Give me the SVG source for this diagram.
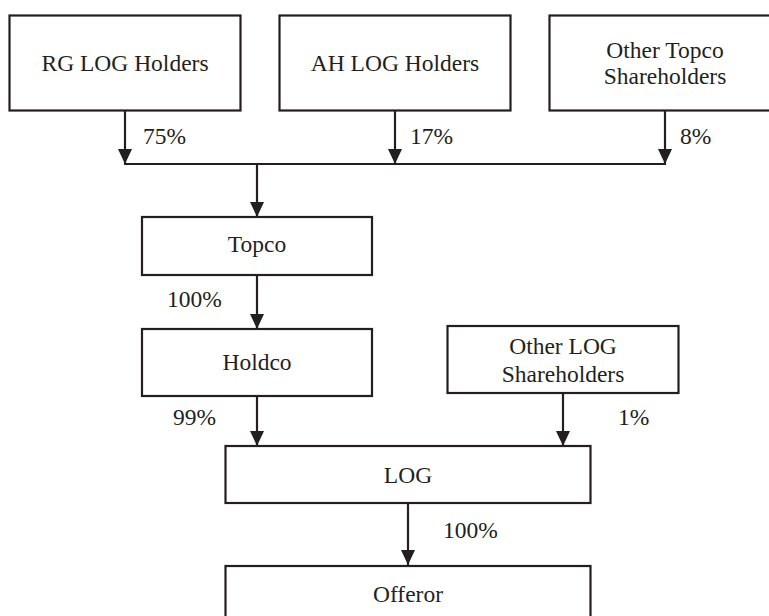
<svg xmlns="http://www.w3.org/2000/svg" width="769" height="616" viewBox="0 0 769 616">
<style>
.box{fill:#fff;stroke:#231f20;stroke-width:2.2}
.t{font-family:"Liberation Serif","Times New Roman",serif;font-size:23.5px;fill:#231f20;text-anchor:middle}
.p{font-family:"Liberation Serif","Times New Roman",serif;font-size:23.5px;fill:#231f20}
.c{fill:none;stroke:#231f20;stroke-width:2.2}
</style>
<defs>
<marker id="ah" viewBox="0 0 15 14" refX="15" refY="7" markerWidth="15" markerHeight="14" markerUnits="userSpaceOnUse" orient="auto">
<path d="M0,0 L15,7 L0,14 Z" fill="#231f20"/>
</marker>
</defs>
<rect width="769" height="616" fill="#fff"/>
<g id="connectors">
<line class="c" x1="125" y1="111" x2="125" y2="164" marker-end="url(#ah)"/>
<line class="c" x1="395" y1="111" x2="395" y2="164" marker-end="url(#ah)"/>
<line class="c" x1="665" y1="111" x2="665" y2="164" marker-end="url(#ah)"/>
<line class="c" x1="124" y1="164" x2="666" y2="164"/>
<line class="c" x1="257" y1="164" x2="257" y2="217" marker-end="url(#ah)"/>
<line class="c" x1="257" y1="275" x2="257" y2="329" marker-end="url(#ah)"/>
<line class="c" x1="257" y1="396" x2="257" y2="446" marker-end="url(#ah)"/>
<line class="c" x1="563" y1="393" x2="563" y2="446" marker-end="url(#ah)"/>
<line class="c" x1="408" y1="503" x2="408" y2="565" marker-end="url(#ah)"/>
<text class="p" x="143" y="144">75%</text>
<text class="p" x="410" y="144">17%</text>
<text class="p" x="680" y="144">8%</text>
<text class="p" x="167" y="307">100%</text>
<text class="p" x="173" y="425">99%</text>
<text class="p" x="618" y="425">1%</text>
<text class="p" x="443" y="538">100%</text>
</g>
<g id="rg">
<rect class="box" x="9.5" y="15.5" width="231" height="95"/>
<text class="t" x="125" y="71">RG LOG Holders</text>
</g>
<g id="ah-holders">
<rect class="box" x="279.5" y="15.5" width="231" height="95"/>
<text class="t" x="395" y="71">AH LOG Holders</text>
</g>
<g id="other-topco">
<rect class="box" x="549.5" y="15.5" width="232" height="95"/>
<text class="t" x="665" y="58">Other Topco</text>
<text class="t" x="665" y="84">Shareholders</text>
</g>
<g id="topco">
<rect class="box" x="142" y="217" width="230" height="58"/>
<text class="t" x="257" y="252">Topco</text>
</g>
<g id="holdco">
<rect class="box" x="142" y="329" width="230" height="67"/>
<text class="t" x="257" y="370">Holdco</text>
</g>
<g id="other-log">
<rect class="box" x="447.5" y="326" width="231" height="67"/>
<text class="t" x="563" y="354">Other LOG</text>
<text class="t" x="563" y="382">Shareholders</text>
</g>
<g id="log">
<rect class="box" x="225.5" y="446" width="365" height="57"/>
<text class="t" x="408" y="483">LOG</text>
</g>
<g id="offeror">
<rect class="box" x="225.5" y="566" width="365" height="60"/>
<text class="t" x="408" y="602">Offeror</text>
</g>
</svg>
